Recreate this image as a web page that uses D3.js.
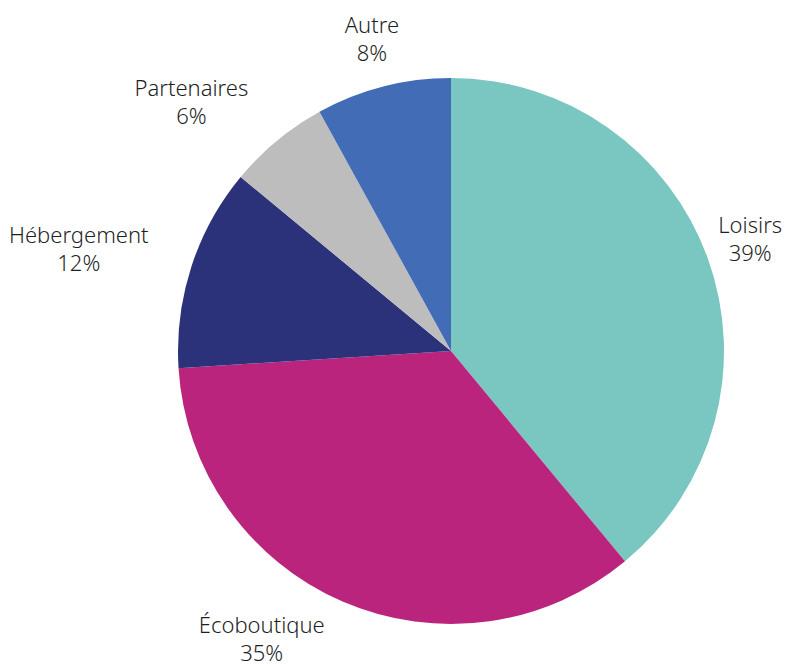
<!DOCTYPE html>
<html>
<head>
<meta charset="utf-8">
<script src="https://cdn.jsdelivr.net/npm/d3@7"></script>
<style>
  html, body { margin: 0; padding: 0; background: #fff; }
  text { font-family: "Noto Sans", Lato, sans-serif; font-size: 22px; font-weight: 300; fill: #1f1f1f; }
</style>
</head>
<body>
<div id="chart"></div>
<script>
// Répartition (%), dans le sens horaire depuis midi
const categories = ['Loisirs', 'Écoboutique', 'Hébergement', 'Partenaires', 'Autre'];
const values = [39, 35, 12, 6, 8];
const colors = ['#7AC6C1', '#BB247C', '#2B327A', '#BDBDBD', '#426CB5'];

const width = 786, height = 665;
const cx = 451, cy = 351, radius = 273;
const labelRadius = 318;

const svg = d3.select('#chart')
    .append('svg')
    .attr('width', width)
    .attr('height', height);

const g = svg.append('g')
    .attr('transform', `translate(${cx},${cy})`);

const data = categories.map((c, i) => ({ name: c, value: values[i], color: colors[i] }));

const pie = d3.pie()
    .value(d => d.value)
    .sort(null);

const arc = d3.arc()
    .innerRadius(0)
    .outerRadius(radius);

const labelArc = d3.arc()
    .innerRadius(labelRadius)
    .outerRadius(labelRadius);

const arcs = pie(data);

g.selectAll('path.slice')
    .data(arcs)
    .enter().append('path')
    .attr('class', 'slice')
    .attr('d', arc)
    .attr('fill', d => d.data.color);

// Étiquettes : bloc centré, sauf à gauche où il se cale sur le bord droit
const label = g.selectAll('g.label')
    .data(arcs)
    .enter().append('g')
    .attr('class', 'label');

label.append('text')
    .attr('class', 'name')
    .attr('text-anchor', 'middle')
    .attr('y', -7)
    .text(d => d.data.name);

label.append('text')
    .attr('class', 'pct')
    .attr('text-anchor', 'middle')
    .attr('y', 21)
    .text(d => d.data.value + '%');

label.attr('transform', function(d) {
    const [x, y] = labelArc.centroid(d);
    const mid = (d.startAngle + d.endAngle) / 2;
    let dx = 0;
    if (Math.sin(mid) < -0.3) {
        const w = d3.max(d3.select(this).selectAll('text').nodes(), n => n.getComputedTextLength());
        dx = -w / 2;
    }
    return `translate(${x + dx},${y - 3})`;
});
</script>
</body>
</html>
